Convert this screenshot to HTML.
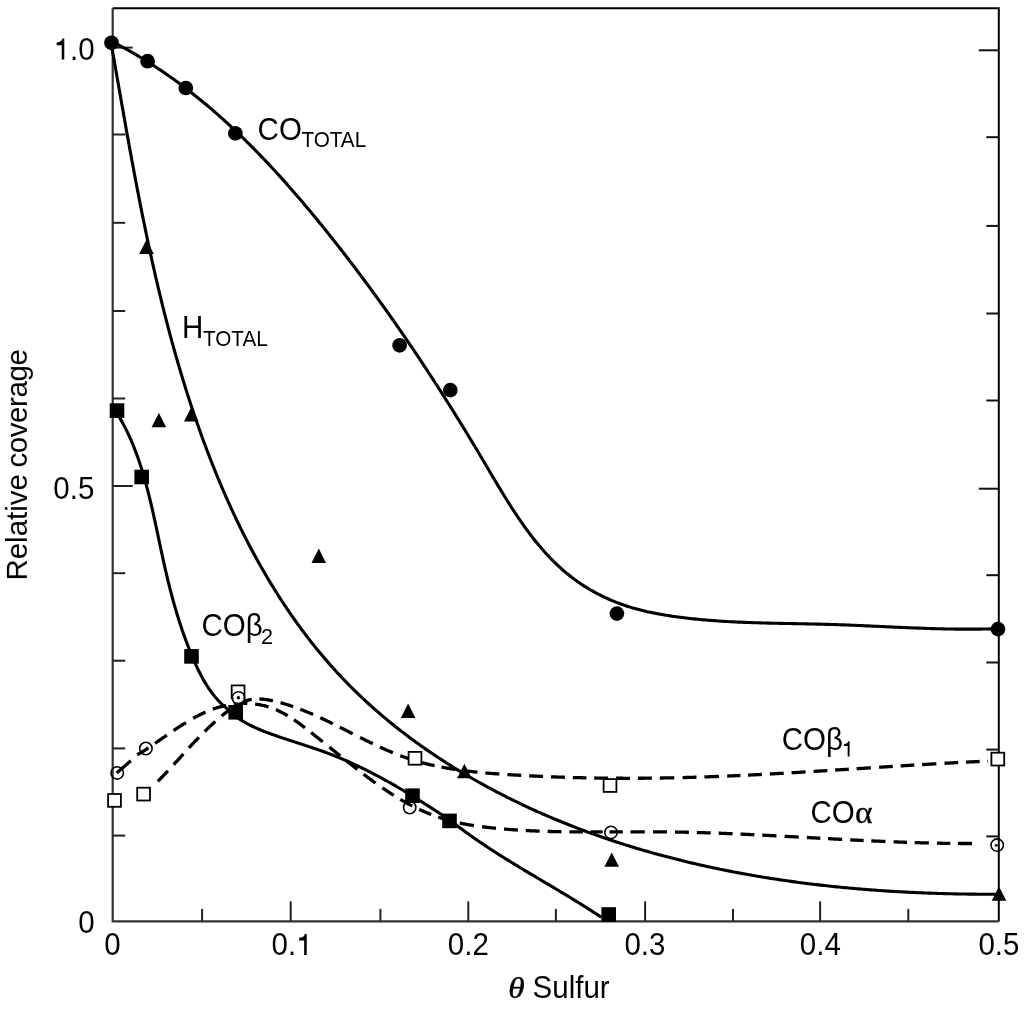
<!DOCTYPE html>
<html><head><meta charset="utf-8"><style>
html,body{margin:0;padding:0;background:#fff;}
body{width:1024px;height:1009px;overflow:hidden;position:relative;font-family:"Liberation Sans",sans-serif;}
svg{position:absolute;left:0;top:0;}
</style></head><body>
<svg width="1024" height="1009" viewBox="0 0 1024 1009">
<path d="M112.7,8.2 H998.8 V921.4" fill="none" stroke="#000" stroke-width="2.0"/>
<path d="M112.7,8.2 V921.4 H998.8" fill="none" stroke="#333" stroke-width="2.2"/>
<line x1="112.7" y1="47.6" x2="132.7" y2="47.6" stroke="#222" stroke-width="2"/>
<line x1="998.8" y1="50.3" x2="978.8" y2="50.3" stroke="#111" stroke-width="2"/>
<line x1="112.7" y1="134.5" x2="125.2" y2="134.5" stroke="#222" stroke-width="2"/>
<line x1="998.8" y1="137.2" x2="986.3" y2="137.2" stroke="#111" stroke-width="2"/>
<line x1="112.7" y1="222.8" x2="125.2" y2="222.8" stroke="#222" stroke-width="2"/>
<line x1="998.8" y1="225.9" x2="986.3" y2="225.9" stroke="#111" stroke-width="2"/>
<line x1="112.7" y1="311.0" x2="125.2" y2="311.0" stroke="#222" stroke-width="2"/>
<line x1="998.8" y1="313.5" x2="986.3" y2="313.5" stroke="#111" stroke-width="2"/>
<line x1="112.7" y1="398.5" x2="125.2" y2="398.5" stroke="#222" stroke-width="2"/>
<line x1="998.8" y1="400.5" x2="986.3" y2="400.5" stroke="#111" stroke-width="2"/>
<line x1="112.7" y1="486.0" x2="132.7" y2="486.0" stroke="#222" stroke-width="2"/>
<line x1="998.8" y1="488.7" x2="978.8" y2="488.7" stroke="#111" stroke-width="2"/>
<line x1="112.7" y1="573.2" x2="125.2" y2="573.2" stroke="#222" stroke-width="2"/>
<line x1="998.8" y1="575.2" x2="986.3" y2="575.2" stroke="#111" stroke-width="2"/>
<line x1="112.7" y1="660.7" x2="125.2" y2="660.7" stroke="#222" stroke-width="2"/>
<line x1="998.8" y1="662.5" x2="986.3" y2="662.5" stroke="#111" stroke-width="2"/>
<line x1="112.7" y1="748.4" x2="125.2" y2="748.4" stroke="#222" stroke-width="2"/>
<line x1="998.8" y1="749.6" x2="986.3" y2="749.6" stroke="#111" stroke-width="2"/>
<line x1="112.7" y1="835.6" x2="125.2" y2="835.6" stroke="#222" stroke-width="2"/>
<line x1="998.8" y1="836.4" x2="986.3" y2="836.4" stroke="#111" stroke-width="2"/>
<line x1="202.1" y1="921.4" x2="202.1" y2="908.9" stroke="#222" stroke-width="2"/>
<line x1="290.7" y1="921.4" x2="290.7" y2="901.4" stroke="#222" stroke-width="2"/>
<line x1="380.4" y1="921.4" x2="380.4" y2="908.9" stroke="#222" stroke-width="2"/>
<line x1="468.3" y1="921.4" x2="468.3" y2="901.4" stroke="#222" stroke-width="2"/>
<line x1="555.9" y1="921.4" x2="555.9" y2="908.9" stroke="#222" stroke-width="2"/>
<line x1="645.1" y1="921.4" x2="645.1" y2="901.4" stroke="#222" stroke-width="2"/>
<line x1="733.0" y1="921.4" x2="733.0" y2="908.9" stroke="#222" stroke-width="2"/>
<line x1="820.1" y1="921.4" x2="820.1" y2="901.4" stroke="#222" stroke-width="2"/>
<line x1="908.3" y1="921.4" x2="908.3" y2="908.9" stroke="#222" stroke-width="2"/>
<path d="M113.56,42.39 L115.34,43.31 L117.12,44.23 L118.89,45.17 L120.66,46.11 L122.42,47.06 L124.18,48.01 L125.93,48.98 L127.68,49.95 L129.42,50.93 L131.16,51.91 L132.89,52.91 L134.62,53.91 L136.34,54.92 L138.06,55.93 L139.77,56.96 L141.48,57.99 L143.18,59.02 L144.88,60.07 L146.58,61.12 L148.26,62.18 L149.95,63.24 L151.63,64.31 L153.30,65.39 L154.97,66.48 L156.64,67.57 L158.30,68.67 L159.96,69.78 L161.61,70.89 L163.26,72.01 L164.90,73.13 L166.54,74.27 L168.17,75.40 L169.80,76.55 L171.42,77.70 L173.05,78.86 L174.66,80.02 L176.27,81.19 L177.88,82.37 L179.48,83.55 L181.08,84.74 L182.67,85.93 L184.26,87.13 L185.85,88.34 L187.43,89.55 L189.01,90.77 L190.58,91.99 L192.15,93.22 L193.71,94.45 L195.27,95.69 L196.83,96.94 L198.38,98.19 L199.93,99.45 L201.47,100.71 L203.01,101.98 L204.54,103.25 L206.08,104.53 L207.60,105.81 L209.13,107.10 L210.65,108.39 L212.16,109.69 L213.67,111.00 L215.18,112.31 L216.68,113.62 L218.18,114.94 L219.68,116.26 L221.17,117.59 L222.66,118.93 L224.14,120.26 L225.62,121.61 L227.10,122.96 L228.57,124.31 L230.04,125.66 L231.51,127.03 L232.97,128.39 L234.43,129.76 L235.88,131.14 L237.33,132.52 L238.78,133.90 L240.22,135.29 L241.66,136.68 L243.10,138.07 L244.53,139.47 L245.96,140.88 L247.39,142.28 L248.81,143.70 L250.23,145.11 L251.65,146.53 L253.06,147.96 L254.47,149.38 L255.87,150.81 L257.28,152.25 L258.67,153.69 L260.07,155.13 L261.46,156.57 L262.85,158.02 L264.24,159.47 L265.62,160.93 L267.00,162.39 L268.37,163.85 L269.75,165.32 L271.12,166.78 L272.48,168.26 L273.85,169.73 L275.21,171.21 L276.57,172.69 L277.92,174.17 L279.27,175.66 L280.62,177.15 L281.96,178.64 L283.31,180.14 L284.65,181.64 L285.98,183.14 L287.32,184.64 L288.65,186.15 L289.97,187.66 L291.30,189.17 L292.62,190.68 L293.94,192.20 L295.26,193.71 L296.57,195.23 L297.88,196.76 L299.19,198.28 L300.49,199.81 L301.80,201.34 L303.10,202.87 L304.39,204.40 L305.69,205.94 L306.98,207.48 L308.27,209.02 L309.56,210.56 L310.84,212.10 L312.12,213.65 L313.40,215.19 L314.68,216.74 L315.95,218.29 L317.22,219.84 L318.49,221.40 L319.76,222.95 L321.02,224.51 L322.29,226.06 L323.55,227.62 L324.80,229.18 L326.06,230.74 L327.31,232.31 L328.56,233.87 L329.81,235.43 L331.05,237.00 L332.30,238.57 L333.54,240.13 L334.78,241.70 L336.02,243.27 L337.25,244.84 L338.48,246.42 L339.71,247.99 L340.94,249.56 L342.17,251.14 L343.39,252.72 L344.61,254.29 L345.83,255.87 L347.05,257.45 L348.27,259.04 L349.48,260.62 L350.69,262.20 L351.90,263.79 L353.11,265.37 L354.31,266.96 L355.51,268.55 L356.71,270.14 L357.91,271.73 L359.11,273.32 L360.31,274.91 L361.50,276.50 L362.69,278.10 L363.88,279.70 L365.06,281.29 L366.25,282.89 L367.43,284.49 L368.61,286.09 L369.79,287.69 L370.97,289.30 L372.14,290.90 L373.32,292.51 L374.49,294.12 L375.66,295.72 L376.83,297.33 L377.99,298.94 L379.16,300.56 L380.32,302.17 L381.48,303.78 L382.64,305.40 L383.79,307.01 L384.95,308.63 L386.10,310.25 L387.25,311.87 L388.40,313.49 L389.55,315.12 L390.69,316.74 L391.84,318.37 L392.98,319.99 L394.12,321.62 L395.26,323.25 L396.40,324.88 L397.53,326.51 L398.67,328.15 L399.80,329.78 L400.93,331.41 L402.06,333.05 L403.19,334.69 L404.31,336.33 L405.44,337.97 L406.56,339.61 L407.68,341.26 L408.80,342.90 L409.91,344.55 L411.03,346.19 L412.14,347.84 L413.26,349.49 L414.37,351.14 L415.48,352.79 L416.59,354.45 L417.69,356.10 L418.80,357.76 L419.90,359.42 L421.00,361.08 L422.11,362.74 L423.20,364.40 L424.30,366.06 L425.40,367.73 L426.49,369.39 L427.59,371.06 L428.68,372.73 L429.77,374.40 L430.86,376.07 L431.95,377.74 L433.03,379.42 L434.12,381.09 L435.20,382.77 L436.28,384.45 L437.36,386.13 L438.44,387.81 L439.52,389.49 L440.60,391.17 L441.68,392.86 L442.75,394.55 L443.82,396.23 L444.89,397.92 L445.97,399.61 L447.03,401.31 L448.10,403.00 L449.17,404.69 L450.24,406.39 L451.30,408.09 L452.36,409.79 L453.43,411.49 L454.49,413.19 L455.55,414.90 L456.60,416.60 L457.66,418.31 L458.72,420.02 L459.77,421.72 L460.83,423.44 L461.88,425.15 L462.93,426.86 L463.98,428.58 L465.03,430.29 L466.08,432.01 L467.13,433.73 L468.18,435.45 L469.22,437.18 L470.26,438.90 L471.31,440.63 L472.35,442.35 L473.39,444.08 L474.43,445.81 L475.47,447.54 L476.51,449.28 L477.55,451.01 L478.58,452.75 L479.62,454.49 L480.65,456.23 L481.69,457.97 L482.72,459.71 L483.75,461.45 L484.78,463.20 L485.81,464.94 L486.84,466.69 L487.87,468.44 L488.91,470.19 L489.94,471.94 L490.97,473.68 L492.00,475.43 L493.03,477.18 L494.07,478.92 L495.10,480.67 L496.14,482.41 L497.18,484.15 L498.22,485.89 L499.27,487.63 L500.31,489.37 L501.36,491.10 L502.42,492.83 L503.47,494.56 L504.53,496.28 L505.59,498.00 L506.66,499.72 L507.73,501.43 L508.80,503.14 L509.88,504.85 L510.96,506.55 L512.05,508.24 L513.15,509.93 L514.24,511.62 L515.35,513.29 L516.46,514.97 L517.57,516.63 L518.70,518.29 L519.82,519.95 L520.96,521.60 L522.10,523.23 L523.25,524.87 L524.40,526.49 L525.57,528.11 L526.74,529.72 L527.92,531.32 L529.10,532.91 L530.30,534.50 L531.50,536.07 L532.71,537.64 L533.93,539.19 L535.16,540.74 L536.40,542.27 L537.65,543.80 L538.91,545.32 L540.18,546.82 L541.46,548.32 L542.75,549.80 L544.05,551.27 L545.36,552.73 L546.68,554.18 L548.01,555.61 L549.36,557.04 L550.71,558.45 L552.08,559.85 L553.46,561.23 L554.85,562.61 L556.26,563.97 L557.67,565.31 L559.10,566.64 L560.55,567.96 L562.00,569.26 L563.47,570.55 L564.96,571.82 L566.46,573.08 L567.97,574.32 L569.50,575.55 L571.04,576.76 L572.59,577.95 L574.17,579.13 L575.75,580.29 L577.35,581.44 L578.97,582.56 L580.60,583.67 L582.25,584.77 L583.91,585.84 L585.58,586.90 L587.26,587.94 L588.96,588.97 L590.67,589.97 L592.40,590.96 L594.13,591.93 L595.88,592.89 L597.64,593.82 L599.41,594.74 L601.19,595.63 L602.98,596.51 L604.79,597.37 L606.60,598.21 L608.42,599.03 L610.25,599.84 L612.10,600.62 L613.95,601.39 L615.80,602.13 L617.67,602.86 L619.55,603.56 L621.43,604.25 L623.32,604.91 L625.22,605.56 L627.12,606.19 L629.03,606.79 L630.95,607.38 L632.87,607.95 L634.80,608.50 L636.74,609.03 L638.68,609.55 L640.63,610.05 L642.58,610.53 L644.53,611.00 L646.49,611.45 L648.45,611.89 L650.42,612.32 L652.39,612.73 L654.37,613.12 L656.34,613.51 L658.32,613.88 L660.30,614.24 L662.29,614.58 L664.27,614.92 L666.26,615.25 L668.25,615.56 L670.24,615.87 L672.23,616.17 L674.22,616.45 L676.22,616.73 L678.21,617.00 L680.20,617.27 L682.20,617.52 L684.19,617.77 L686.18,618.01 L688.18,618.25 L690.17,618.47 L692.16,618.69 L694.16,618.90 L696.15,619.11 L698.15,619.31 L700.14,619.50 L702.14,619.69 L704.14,619.86 L706.13,620.04 L708.13,620.20 L710.12,620.37 L712.12,620.52 L714.12,620.67 L716.12,620.82 L718.11,620.95 L720.11,621.09 L722.11,621.22 L724.10,621.34 L726.10,621.46 L728.10,621.57 L730.10,621.68 L732.10,621.79 L734.10,621.89 L736.09,621.99 L738.09,622.08 L740.09,622.17 L742.09,622.26 L744.09,622.34 L746.09,622.42 L748.09,622.49 L750.09,622.56 L752.09,622.63 L754.09,622.70 L756.09,622.76 L758.09,622.82 L760.09,622.88 L762.09,622.94 L764.09,622.99 L766.09,623.04 L768.09,623.09 L770.09,623.14 L772.09,623.19 L774.09,623.23 L776.09,623.28 L778.09,623.32 L780.09,623.36 L782.09,623.40 L784.09,623.44 L786.09,623.48 L788.09,623.52 L790.09,623.56 L792.09,623.59 L794.09,623.63 L796.09,623.67 L798.09,623.71 L800.09,623.75 L802.09,623.78 L804.09,623.82 L806.08,623.86 L808.08,623.90 L810.08,623.95 L812.08,623.99 L814.08,624.03 L816.08,624.08 L818.08,624.12 L820.08,624.17 L822.08,624.22 L824.08,624.27 L826.08,624.33 L828.08,624.38 L830.07,624.44 L832.07,624.50 L834.07,624.57 L836.07,624.63 L838.07,624.70 L840.06,624.77 L842.06,624.84 L844.06,624.92 L846.06,624.99 L848.06,625.07 L850.05,625.15 L852.05,625.23 L854.05,625.31 L856.04,625.40 L858.04,625.48 L860.04,625.57 L862.04,625.65 L864.03,625.74 L866.03,625.83 L868.03,625.92 L870.02,626.01 L872.02,626.10 L874.02,626.19 L876.01,626.28 L878.01,626.37 L880.01,626.46 L882.00,626.55 L884.00,626.65 L886.00,626.74 L888.00,626.83 L889.99,626.92 L891.99,627.01 L893.99,627.10 L895.98,627.19 L897.98,627.28 L899.98,627.36 L901.98,627.45 L903.97,627.54 L905.97,627.62 L907.97,627.70 L909.97,627.79 L911.96,627.87 L913.96,627.95 L915.96,628.02 L917.96,628.10 L919.95,628.17 L921.95,628.25 L923.95,628.32 L925.95,628.39 L927.95,628.45 L929.95,628.52 L931.95,628.58 L933.95,628.64 L935.94,628.69 L937.94,628.75 L939.94,628.80 L941.94,628.85 L943.94,628.89 L945.94,628.93 L947.94,628.97 L949.94,629.01 L951.95,629.04 L953.95,629.07 L955.95,629.10 L957.95,629.12 L959.95,629.14 L961.95,629.15 L963.95,629.16 L965.96,629.17 L967.96,629.17 L969.96,629.17 L971.97,629.16 L973.97,629.15 L975.97,629.14 L977.98,629.12 L979.98,629.10 L981.99,629.07 L983.99,629.03 L986.00,628.99 L988.00,628.95 L990.01,628.90 L992.01,628.85 L994.02,628.79 L996.03,628.72 L998.03,628.65" fill="none" stroke="#000" stroke-width="3.1" stroke-linejoin="round"/>
<path d="M111.57,45.58 L111.91,47.53 L112.26,49.49 L112.60,51.45 L112.94,53.41 L113.29,55.37 L113.63,57.33 L113.97,59.29 L114.31,61.25 L114.66,63.21 L115.00,65.17 L115.34,67.13 L115.68,69.09 L116.03,71.05 L116.37,73.02 L116.71,74.98 L117.05,76.94 L117.40,78.90 L117.74,80.86 L118.08,82.83 L118.42,84.79 L118.77,86.75 L119.11,88.72 L119.45,90.68 L119.80,92.64 L120.14,94.61 L120.48,96.57 L120.83,98.53 L121.17,100.50 L121.52,102.46 L121.86,104.43 L122.21,106.39 L122.55,108.36 L122.90,110.32 L123.25,112.29 L123.59,114.25 L123.94,116.22 L124.29,118.18 L124.64,120.15 L124.99,122.11 L125.34,124.08 L125.69,126.04 L126.04,128.01 L126.39,129.97 L126.74,131.94 L127.09,133.91 L127.44,135.87 L127.80,137.84 L128.15,139.80 L128.51,141.77 L128.86,143.73 L129.22,145.70 L129.57,147.67 L129.93,149.63 L130.29,151.60 L130.65,153.56 L131.01,155.53 L131.37,157.49 L131.73,159.46 L132.09,161.43 L132.46,163.39 L132.82,165.36 L133.19,167.32 L133.55,169.29 L133.92,171.25 L134.29,173.22 L134.66,175.18 L135.03,177.15 L135.40,179.11 L135.77,181.08 L136.15,183.04 L136.52,185.00 L136.90,186.97 L137.27,188.93 L137.65,190.90 L138.03,192.86 L138.41,194.82 L138.79,196.79 L139.18,198.75 L139.56,200.71 L139.95,202.68 L140.33,204.64 L140.72,206.60 L141.11,208.56 L141.50,210.52 L141.90,212.49 L142.29,214.45 L142.68,216.41 L143.08,218.37 L143.48,220.33 L143.88,222.29 L144.28,224.25 L144.68,226.21 L145.09,228.17 L145.49,230.13 L145.90,232.09 L146.31,234.05 L146.72,236.00 L147.13,237.96 L147.54,239.92 L147.96,241.88 L148.38,243.83 L148.79,245.79 L149.21,247.75 L149.64,249.70 L150.06,251.66 L150.49,253.62 L150.91,255.57 L151.34,257.52 L151.77,259.48 L152.21,261.43 L152.64,263.39 L153.08,265.34 L153.52,267.29 L153.96,269.24 L154.40,271.20 L154.85,273.15 L155.29,275.10 L155.74,277.05 L156.19,279.00 L156.65,280.95 L157.10,282.90 L157.56,284.84 L158.02,286.79 L158.48,288.74 L158.94,290.69 L159.41,292.63 L159.88,294.58 L160.35,296.53 L160.82,298.47 L161.29,300.41 L161.77,302.36 L162.25,304.30 L162.73,306.25 L163.21,308.19 L163.70,310.13 L164.19,312.07 L164.68,314.01 L165.17,315.95 L165.67,317.89 L166.17,319.83 L166.67,321.77 L167.17,323.71 L167.68,325.64 L168.18,327.58 L168.70,329.51 L169.21,331.45 L169.72,333.38 L170.24,335.32 L170.76,337.25 L171.29,339.18 L171.81,341.12 L172.34,343.05 L172.88,344.98 L173.41,346.91 L173.95,348.84 L174.49,350.77 L175.03,352.69 L175.58,354.62 L176.12,356.55 L176.68,358.47 L177.23,360.40 L177.79,362.32 L178.35,364.25 L178.91,366.17 L179.48,368.09 L180.04,370.01 L180.62,371.93 L181.19,373.85 L181.77,375.77 L182.35,377.69 L182.93,379.61 L183.52,381.52 L184.11,383.44 L184.70,385.35 L185.30,387.27 L185.90,389.18 L186.50,391.09 L187.11,393.00 L187.72,394.92 L188.33,396.83 L188.94,398.73 L189.56,400.64 L190.18,402.55 L190.81,404.46 L191.44,406.36 L192.07,408.27 L192.70,410.17 L193.34,412.07 L193.98,413.97 L194.63,415.88 L195.28,417.78 L195.93,419.67 L196.59,421.57 L197.25,423.47 L197.91,425.37 L198.58,427.26 L199.25,429.16 L199.92,431.05 L200.60,432.94 L201.28,434.83 L201.96,436.72 L202.65,438.61 L203.34,440.50 L204.04,442.39 L204.74,444.27 L205.44,446.16 L206.15,448.04 L206.86,449.93 L207.57,451.81 L208.29,453.69 L209.01,455.57 L209.74,457.45 L210.47,459.32 L211.20,461.20 L211.94,463.07 L212.68,464.95 L213.42,466.82 L214.17,468.69 L214.92,470.56 L215.68,472.42 L216.44,474.29 L217.21,476.15 L217.97,478.01 L218.75,479.87 L219.52,481.73 L220.31,483.59 L221.09,485.44 L221.88,487.30 L222.67,489.15 L223.47,491.00 L224.27,492.85 L225.08,494.69 L225.89,496.54 L226.70,498.38 L227.52,500.22 L228.34,502.06 L229.17,503.89 L230.00,505.73 L230.84,507.56 L231.68,509.39 L232.52,511.22 L233.37,513.04 L234.22,514.86 L235.08,516.68 L235.94,518.50 L236.80,520.32 L237.67,522.13 L238.55,523.94 L239.43,525.75 L240.31,527.56 L241.20,529.36 L242.09,531.16 L242.99,532.96 L243.89,534.75 L244.80,536.55 L245.71,538.34 L246.62,540.13 L247.54,541.91 L248.47,543.69 L249.40,545.47 L250.33,547.25 L251.27,549.02 L252.21,550.79 L253.16,552.56 L254.11,554.33 L255.07,556.09 L256.03,557.85 L257.00,559.60 L257.97,561.35 L258.95,563.10 L259.93,564.85 L260.91,566.59 L261.91,568.33 L262.90,570.07 L263.90,571.80 L264.91,573.53 L265.92,575.26 L266.93,576.98 L267.95,578.70 L268.98,580.42 L270.01,582.13 L271.05,583.84 L272.09,585.55 L273.13,587.25 L274.18,588.95 L275.24,590.64 L276.30,592.33 L277.36,594.02 L278.44,595.71 L279.51,597.39 L280.59,599.06 L281.68,600.74 L282.77,602.40 L283.87,604.07 L284.97,605.73 L286.08,607.39 L287.19,609.04 L288.31,610.69 L289.43,612.33 L290.56,613.97 L291.69,615.61 L292.83,617.24 L293.98,618.87 L295.13,620.49 L296.28,622.11 L297.44,623.73 L298.61,625.34 L299.78,626.95 L300.96,628.55 L302.14,630.15 L303.33,631.74 L304.52,633.33 L305.72,634.91 L306.93,636.49 L308.14,638.07 L309.35,639.64 L310.57,641.20 L311.80,642.77 L313.03,644.32 L314.27,645.87 L315.51,647.42 L316.76,648.96 L318.02,650.50 L319.28,652.03 L320.55,653.56 L321.82,655.09 L323.10,656.60 L324.38,658.12 L325.67,659.62 L326.97,661.13 L328.27,662.62 L329.58,664.12 L330.89,665.60 L332.21,667.09 L333.53,668.56 L334.86,670.04 L336.20,671.50 L337.54,672.96 L338.89,674.42 L340.25,675.87 L341.61,677.31 L342.97,678.75 L344.35,680.19 L345.73,681.62 L347.11,683.04 L348.50,684.46 L349.90,685.87 L351.30,687.28 L352.71,688.68 L354.12,690.07 L355.54,691.46 L356.97,692.85 L358.40,694.23 L359.84,695.60 L361.28,696.97 L362.73,698.33 L364.18,699.69 L365.64,701.04 L367.11,702.39 L368.58,703.73 L370.05,705.07 L371.53,706.40 L373.02,707.73 L374.51,709.05 L376.01,710.36 L377.51,711.67 L379.02,712.97 L380.53,714.27 L382.05,715.56 L383.57,716.85 L385.10,718.13 L386.63,719.41 L388.17,720.68 L389.71,721.95 L391.26,723.21 L392.81,724.46 L394.37,725.71 L395.93,726.96 L397.49,728.20 L399.06,729.43 L400.64,730.66 L402.22,731.89 L403.81,733.10 L405.40,734.32 L406.99,735.52 L408.59,736.73 L410.19,737.92 L411.80,739.11 L413.41,740.30 L415.03,741.48 L416.65,742.66 L418.27,743.83 L419.90,744.99 L421.53,746.15 L423.17,747.31 L424.81,748.46 L426.46,749.60 L428.11,750.74 L429.76,751.88 L431.42,753.00 L433.08,754.13 L434.74,755.25 L436.41,756.36 L438.09,757.47 L439.76,758.57 L441.44,759.67 L443.13,760.76 L444.81,761.84 L446.51,762.93 L448.20,764.00 L449.90,765.07 L451.60,766.14 L453.31,767.20 L455.02,768.26 L456.73,769.31 L458.44,770.35 L460.16,771.39 L461.89,772.43 L463.61,773.46 L465.34,774.48 L467.07,775.50 L468.81,776.51 L470.55,777.52 L472.29,778.53 L474.03,779.53 L475.78,780.52 L477.53,781.51 L479.28,782.49 L481.04,783.47 L482.80,784.44 L484.56,785.41 L486.33,786.38 L488.09,787.33 L489.86,788.29 L491.64,789.23 L493.41,790.18 L495.19,791.12 L496.97,792.05 L498.76,792.98 L500.54,793.90 L502.33,794.82 L504.12,795.73 L505.91,796.64 L507.71,797.54 L509.51,798.43 L511.31,799.33 L513.11,800.21 L514.91,801.10 L516.72,801.97 L518.53,802.85 L520.34,803.71 L522.15,804.57 L523.97,805.43 L525.79,806.28 L527.61,807.13 L529.43,807.97 L531.25,808.81 L533.07,809.64 L534.90,810.47 L536.73,811.29 L538.56,812.11 L540.40,812.92 L542.23,813.73 L544.07,814.53 L545.91,815.33 L547.75,816.12 L549.59,816.91 L551.43,817.70 L553.28,818.47 L555.13,819.25 L556.98,820.02 L558.83,820.78 L560.68,821.54 L562.54,822.30 L564.40,823.05 L566.26,823.79 L568.12,824.53 L569.98,825.27 L571.84,826.00 L573.71,826.73 L575.58,827.45 L577.45,828.17 L579.32,828.88 L581.19,829.59 L583.07,830.29 L584.94,830.99 L586.82,831.68 L588.70,832.37 L590.58,833.06 L592.47,833.74 L594.35,834.41 L596.24,835.08 L598.12,835.75 L600.01,836.41 L601.91,837.07 L603.80,837.72 L605.69,838.37 L607.59,839.02 L609.48,839.66 L611.38,840.29 L613.28,840.92 L615.18,841.55 L617.09,842.17 L618.99,842.79 L620.90,843.41 L622.81,844.01 L624.71,844.62 L626.62,845.22 L628.54,845.82 L630.45,846.41 L632.36,846.99 L634.28,847.58 L636.20,848.16 L638.12,848.73 L640.03,849.30 L641.96,849.87 L643.88,850.43 L645.80,850.99 L647.73,851.54 L649.65,852.09 L651.58,852.63 L653.51,853.18 L655.44,853.71 L657.37,854.24 L659.30,854.77 L661.24,855.30 L663.17,855.82 L665.11,856.33 L667.05,856.85 L668.98,857.35 L670.92,857.86 L672.86,858.36 L674.81,858.85 L676.75,859.34 L678.69,859.83 L680.64,860.32 L682.58,860.79 L684.53,861.27 L686.48,861.74 L688.43,862.21 L690.38,862.67 L692.33,863.13 L694.28,863.59 L696.24,864.04 L698.19,864.49 L700.15,864.93 L702.10,865.37 L704.06,865.81 L706.02,866.24 L707.98,866.67 L709.94,867.09 L711.90,867.52 L713.86,867.93 L715.82,868.35 L717.79,868.76 L719.75,869.16 L721.72,869.56 L723.68,869.96 L725.65,870.36 L727.62,870.75 L729.59,871.13 L731.55,871.52 L733.52,871.90 L735.50,872.27 L737.47,872.64 L739.44,873.01 L741.41,873.38 L743.39,873.74 L745.36,874.10 L747.34,874.45 L749.31,874.80 L751.29,875.15 L753.27,875.49 L755.24,875.83 L757.22,876.17 L759.20,876.50 L761.18,876.83 L763.16,877.16 L765.14,877.48 L767.12,877.80 L769.10,878.11 L771.09,878.42 L773.07,878.73 L775.05,879.04 L777.04,879.34 L779.02,879.64 L781.01,879.93 L782.99,880.22 L784.98,880.51 L786.97,880.79 L788.95,881.07 L790.94,881.35 L792.93,881.63 L794.92,881.90 L796.90,882.17 L798.89,882.43 L800.88,882.69 L802.87,882.95 L804.86,883.20 L806.85,883.45 L808.84,883.70 L810.83,883.95 L812.83,884.19 L814.82,884.43 L816.81,884.66 L818.80,884.89 L820.79,885.12 L822.79,885.35 L824.78,885.57 L826.77,885.79 L828.77,886.01 L830.76,886.22 L832.75,886.43 L834.75,886.64 L836.74,886.84 L838.74,887.04 L840.73,887.24 L842.72,887.43 L844.72,887.63 L846.71,887.81 L848.71,888.00 L850.70,888.18 L852.70,888.36 L854.69,888.54 L856.69,888.71 L858.68,888.88 L860.68,889.05 L862.67,889.22 L864.67,889.38 L866.66,889.54 L868.66,889.69 L870.65,889.85 L872.65,890.00 L874.64,890.15 L876.64,890.29 L878.63,890.43 L880.63,890.57 L882.62,890.71 L884.62,890.84 L886.61,890.97 L888.61,891.10 L890.60,891.23 L892.59,891.35 L894.59,891.47 L896.58,891.58 L898.58,891.70 L900.57,891.81 L902.56,891.92 L904.55,892.03 L906.55,892.13 L908.54,892.23 L910.53,892.33 L912.52,892.42 L914.51,892.52 L916.50,892.61 L918.50,892.70 L920.49,892.78 L922.48,892.86 L924.47,892.94 L926.45,893.02 L928.44,893.10 L930.43,893.17 L932.42,893.24 L934.41,893.31 L936.40,893.37 L938.38,893.43 L940.37,893.49 L942.36,893.55 L944.34,893.61 L946.33,893.66 L948.31,893.71 L950.29,893.76 L952.28,893.80 L954.26,893.85 L956.24,893.89 L958.23,893.93 L960.21,893.96 L962.19,894.00 L964.17,894.03 L966.15,894.06 L968.13,894.08 L970.11,894.11 L972.08,894.13 L974.06,894.15 L976.04,894.17 L978.01,894.18 L979.99,894.20 L981.96,894.21 L983.94,894.22 L985.91,894.23 L987.88,894.23 L989.85,894.23 L991.82,894.23 L993.79,894.23 L995.76,894.23 L997.73,894.22" fill="none" stroke="#000" stroke-width="3.1" stroke-linejoin="round"/>
<path d="M115.73,411.46 L116.81,413.12 L117.86,414.80 L118.90,416.49 L119.92,418.19 L120.92,419.90 L121.90,421.62 L122.86,423.36 L123.80,425.11 L124.72,426.86 L125.63,428.63 L126.52,430.40 L127.39,432.19 L128.25,433.99 L129.09,435.79 L129.91,437.60 L130.72,439.42 L131.51,441.25 L132.29,443.09 L133.05,444.93 L133.80,446.79 L134.53,448.65 L135.25,450.51 L135.96,452.38 L136.65,454.26 L137.33,456.14 L138.00,458.03 L138.66,459.93 L139.30,461.83 L139.94,463.73 L140.56,465.64 L141.17,467.55 L141.77,469.47 L142.36,471.39 L142.94,473.31 L143.51,475.24 L144.08,477.16 L144.63,479.09 L145.18,481.03 L145.71,482.96 L146.24,484.90 L146.76,486.84 L147.28,488.78 L147.78,490.73 L148.28,492.67 L148.77,494.62 L149.26,496.57 L149.74,498.53 L150.21,500.48 L150.68,502.44 L151.15,504.39 L151.61,506.35 L152.06,508.31 L152.51,510.27 L152.95,512.23 L153.40,514.20 L153.83,516.16 L154.27,518.13 L154.70,520.09 L155.13,522.06 L155.55,524.03 L155.98,526.00 L156.40,527.96 L156.82,529.93 L157.24,531.90 L157.66,533.87 L158.08,535.84 L158.49,537.81 L158.91,539.78 L159.32,541.75 L159.74,543.72 L160.16,545.69 L160.58,547.66 L160.99,549.63 L161.42,551.60 L161.84,553.57 L162.26,555.54 L162.69,557.50 L163.12,559.47 L163.55,561.43 L163.98,563.40 L164.42,565.36 L164.86,567.32 L165.31,569.28 L165.76,571.24 L166.21,573.20 L166.67,575.16 L167.13,577.11 L167.60,579.06 L168.07,581.02 L168.55,582.97 L169.03,584.92 L169.52,586.86 L170.02,588.81 L170.51,590.75 L171.02,592.70 L171.53,594.64 L172.05,596.58 L172.57,598.51 L173.10,600.45 L173.64,602.38 L174.18,604.32 L174.73,606.25 L175.29,608.17 L175.85,610.10 L176.42,612.03 L177.00,613.95 L177.58,615.87 L178.18,617.79 L178.78,619.70 L179.39,621.62 L180.00,623.53 L180.63,625.44 L181.26,627.35 L181.91,629.25 L182.56,631.15 L183.22,633.06 L183.88,634.95 L184.56,636.85 L185.25,638.74 L185.94,640.64 L186.65,642.52 L187.37,644.41 L188.09,646.29 L188.83,648.18 L189.57,650.05 L190.33,651.93 L191.09,653.80 L191.87,655.67 L192.66,657.54 L193.45,659.41 L194.26,661.27 L195.09,663.12 L195.92,664.97 L196.78,666.81 L197.64,668.64 L198.53,670.46 L199.43,672.27 L200.34,674.07 L201.28,675.85 L202.24,677.63 L203.21,679.38 L204.21,681.12 L205.23,682.84 L206.27,684.54 L207.34,686.23 L208.43,687.89 L209.54,689.53 L210.68,691.15 L211.85,692.74 L213.04,694.31 L214.27,695.85 L215.52,697.37 L216.80,698.86 L218.11,700.31 L219.46,701.74 L220.84,703.14 L222.25,704.50 L223.69,705.83 L225.17,707.12 L226.69,708.38 L228.24,709.61 L229.83,710.79 L231.46,711.94 L233.12,713.04 L234.83,714.10" fill="none" stroke="#000" stroke-width="3.1" stroke-linejoin="round"/>
<path d="M233.74,714.98 L235.27,716.14 L236.83,717.26 L238.41,718.35 L240.01,719.41 L241.63,720.43 L243.27,721.43 L244.94,722.39 L246.62,723.33 L248.31,724.24 L250.03,725.13 L251.76,725.99 L253.51,726.83 L255.27,727.65 L257.05,728.45 L258.84,729.23 L260.64,729.99 L262.45,730.73 L264.28,731.46 L266.11,732.18 L267.96,732.88 L269.81,733.56 L271.68,734.24 L273.55,734.91 L275.42,735.56 L277.31,736.22 L279.19,736.86 L281.09,737.50 L282.98,738.13 L284.88,738.76 L286.79,739.39 L288.70,740.02 L290.60,740.64 L292.52,741.26 L294.43,741.88 L296.35,742.50 L298.26,743.12 L300.18,743.74 L302.10,744.36 L304.02,744.99 L305.93,745.61 L307.85,746.25 L309.77,746.88 L311.68,747.52 L313.59,748.16 L315.51,748.81 L317.41,749.47 L319.32,750.14 L321.22,750.81 L323.12,751.49 L325.02,752.18 L326.91,752.88 L328.79,753.59 L330.67,754.30 L332.55,755.03 L334.42,755.77 L336.29,756.52 L338.15,757.28 L340.01,758.05 L341.86,758.83 L343.71,759.62 L345.55,760.42 L347.39,761.22 L349.23,762.04 L351.06,762.86 L352.88,763.70 L354.71,764.54 L356.53,765.39 L358.34,766.25 L360.15,767.11 L361.96,767.99 L363.76,768.87 L365.56,769.76 L367.35,770.66 L369.14,771.57 L370.93,772.48 L372.71,773.40 L374.49,774.33 L376.27,775.26 L378.04,776.20 L379.81,777.15 L381.57,778.11 L383.33,779.07 L385.09,780.03 L386.85,781.01 L388.60,781.99 L390.35,782.97 L392.09,783.96 L393.83,784.96 L395.57,785.96 L397.31,786.97 L399.04,787.98 L400.77,789.00 L402.50,790.02 L404.22,791.05 L405.94,792.08 L407.66,793.12 L409.37,794.16 L411.09,795.20 L412.80,796.25 L414.51,797.30 L416.21,798.36 L417.91,799.42 L419.61,800.49 L421.31,801.55 L423.01,802.62 L424.70,803.70 L426.39,804.78 L428.08,805.86 L429.76,806.94 L431.45,808.02 L433.13,809.11 L434.81,810.20 L436.49,811.29 L438.16,812.39 L439.84,813.48 L441.51,814.58 L443.18,815.68 L444.85,816.78 L446.51,817.89 L448.18,818.99 L449.84,820.10" fill="none" stroke="#000" stroke-width="3.1" stroke-linejoin="round"/>
<path d="M449.88,820.02 L451.45,821.27 L453.03,822.52 L454.61,823.75 L456.20,824.98 L457.79,826.20 L459.39,827.41 L460.99,828.61 L462.60,829.81 L464.21,831.00 L465.83,832.18 L467.45,833.36 L469.07,834.53 L470.70,835.69 L472.34,836.85 L473.98,838.00 L475.62,839.14 L477.27,840.28 L478.92,841.41 L480.57,842.53 L482.23,843.65 L483.89,844.77 L485.55,845.88 L487.22,846.98 L488.89,848.08 L490.57,849.18 L492.25,850.27 L493.93,851.35 L495.61,852.43 L497.30,853.51 L498.98,854.58 L500.68,855.65 L502.37,856.72 L504.07,857.78 L505.76,858.84 L507.46,859.89 L509.17,860.94 L510.87,861.99 L512.58,863.04 L514.29,864.08 L516.00,865.12 L517.71,866.16 L519.42,867.20 L521.13,868.23 L522.85,869.27 L524.57,870.30 L526.28,871.33 L528.00,872.35 L529.72,873.38 L531.44,874.41 L533.16,875.43 L534.88,876.45 L536.61,877.48 L538.33,878.50 L540.05,879.52 L541.78,880.54 L543.50,881.56 L545.22,882.59 L546.94,883.61 L548.67,884.63 L550.39,885.65 L552.11,886.68 L553.83,887.70 L555.55,888.73 L557.27,889.75 L558.99,890.78 L560.71,891.81 L562.43,892.84 L564.15,893.87 L565.86,894.91 L567.58,895.94 L569.29,896.98 L571.00,898.02 L572.71,899.07 L574.42,900.11 L576.12,901.16 L577.83,902.21 L579.53,903.27 L581.23,904.33 L582.93,905.39 L584.63,906.45 L586.32,907.52 L588.01,908.59 L589.70,909.67 L591.38,910.75 L593.07,911.84 L594.75,912.93 L596.43,914.02 L598.10,915.12 L599.77,916.23 L601.44,917.33" fill="none" stroke="#000" stroke-width="3.1" stroke-linejoin="round"/>
<path d="M157.80,781.34 L158.21,780.93 L158.89,780.25 L159.56,779.57 L160.24,778.88 L160.91,778.19 L161.58,777.50 L162.25,776.81 L162.92,776.11 L163.59,775.41 L164.26,774.71 L164.93,774.01 L165.60,773.30 L166.27,772.59 L166.94,771.88 L167.60,771.17 L167.93,770.82 M173.60,764.69 L173.62,764.67 L174.29,763.94 L174.96,763.21 L175.62,762.47 L176.29,761.74 L176.97,761.01 L177.64,760.27 L178.31,759.53 L178.98,758.79 L179.65,758.06 L180.33,757.32 L181.00,756.58 L181.67,755.83 L182.35,755.09 L183.03,754.35 L183.32,754.02 M188.90,747.95 L189.16,747.67 L189.85,746.92 L190.54,746.18 L191.23,745.44 L191.92,744.70 L192.61,743.96 L193.31,743.22 L194.01,742.48 L194.70,741.74 L195.40,741.00 L196.11,740.26 L196.81,739.53 L197.51,738.79 L198.22,738.06 L198.87,737.39 M204.70,731.49 L205.41,730.79 L206.14,730.08 L206.87,729.36 L207.61,728.65 L208.35,727.94 L209.09,727.23 L209.83,726.52 L210.58,725.82 L211.33,725.12 L212.08,724.42 L212.83,723.72 L213.59,723.03 L214.35,722.34 L215.12,721.65 L215.30,721.48 M221.60,716.03 L222.13,715.59 L222.92,714.93 L223.72,714.28 L224.53,713.63 L225.33,712.99 L226.14,712.36 L226.95,711.73 L227.77,711.11 L228.59,710.50 L229.41,709.90 L230.24,709.31 L231.07,708.73 L231.90,708.16 L232.36,707.85 M238.99,703.89 L239.55,703.60 L240.42,703.17 L241.29,702.76 L242.17,702.36 L243.05,701.98 L243.93,701.63 L244.81,701.29 L245.70,700.97 L246.60,700.67 L247.49,700.40 L248.39,700.15 L249.30,699.92 L250.20,699.71 L251.11,699.53 L251.70,699.43 M259.40,698.96 L259.46,698.96 L260.40,699.00 L261.34,699.06 L262.28,699.14 L263.23,699.23 L264.17,699.34 L265.12,699.46 L266.06,699.59 L267.01,699.74 L267.96,699.90 L268.91,700.06 L269.85,700.24 L270.80,700.43 L271.75,700.62 L272.69,700.82 L272.91,700.87 M280.50,702.72 L281.15,702.90 L282.09,703.15 L283.02,703.42 L283.96,703.69 L284.89,703.96 L285.82,704.24 L286.75,704.52 L287.68,704.81 L288.61,705.11 L289.54,705.41 L290.47,705.71 L291.40,706.02 L292.32,706.33 L293.18,706.63 M300.30,709.22 L300.62,709.35 L301.54,709.70 L302.46,710.06 L303.38,710.42 L304.30,710.79 L305.21,711.16 L306.13,711.53 L307.04,711.91 L307.96,712.29 L308.87,712.67 L309.79,713.06 L310.70,713.45 L311.61,713.85 L312.53,714.24 L313.09,714.49 M320.30,717.74 L320.72,717.94 L321.63,718.36 L322.54,718.78 L323.45,719.21 L324.35,719.64 L325.26,720.07 L326.17,720.51 L327.08,720.94 L327.98,721.38 L328.89,721.82 L329.80,722.26 L330.70,722.70 L331.61,723.14 L332.51,723.59 L332.74,723.70 M339.80,727.22 L340.66,727.65 L341.57,728.11 L342.47,728.57 L343.38,729.02 L344.29,729.48 L345.19,729.94 L346.10,730.40 L347.00,730.86 L347.91,731.32 L348.81,731.78 L349.72,732.24 L350.63,732.70 L351.53,733.15 L352.44,733.61 L352.72,733.75 M360.10,737.48 L360.61,737.73 L361.51,738.19 L362.42,738.64 L363.33,739.09 L364.24,739.55 L365.15,740.00 L366.06,740.45 L366.97,740.89 L367.89,741.34 L368.80,741.79 L369.71,742.23 L370.62,742.67 L371.54,743.11 L372.45,743.55 L372.72,743.68 M380.00,747.10 L380.70,747.42 L381.62,747.83 L382.54,748.25 L383.46,748.66 L384.38,749.07 L385.30,749.48 L386.22,749.89 L387.15,750.29 L388.07,750.69 L388.99,751.09 L389.92,751.48 L390.85,751.87 L391.77,752.26 L392.70,752.64 L392.85,752.70 M400.30,755.64 L401.09,755.94 L402.03,756.28 L402.96,756.63 L403.90,756.97 L404.84,757.30 L405.78,757.63 L406.72,757.96 L407.67,758.28 L408.61,758.60 L409.55,758.91 L410.50,759.22 L411.45,759.53 L412.39,759.83 L413.34,760.12 L414.16,760.37 M422.20,762.68 L422.88,762.86 L423.84,763.11 L424.80,763.36 L425.76,763.61 L426.72,763.85 L427.68,764.08 L428.64,764.32 L429.61,764.55 L430.57,764.78 L431.54,765.00 L432.50,765.22 L433.47,765.44 L434.44,765.65 L434.45,765.65 M441.50,767.10 L442.20,767.23 L443.18,767.42 L444.15,767.60 L445.13,767.78 L446.10,767.95 L447.08,768.12 L448.06,768.29 L449.04,768.46 L450.01,768.62 L450.99,768.78 L451.97,768.94 L452.95,769.10 L453.93,769.25 L454.91,769.40 L455.48,769.48 M463.50,770.60 L463.77,770.64 L464.76,770.76 L465.75,770.89 L466.73,771.01 L467.72,771.13 L468.71,771.25 L469.70,771.36 L470.69,771.47 L471.68,771.58 L472.67,771.69 L473.66,771.80 L474.65,771.91 L475.64,772.01 L476.63,772.11 L477.43,772.19 M485.40,772.93 L485.57,772.95 L486.56,773.03 L487.56,773.12 L488.55,773.20 L489.55,773.28 L490.55,773.36 L491.54,773.44 L492.54,773.52 L493.53,773.59 L494.53,773.67 L495.53,773.74 L496.52,773.82 L497.52,773.89 L498.52,773.96 L499.40,774.02 M507.40,774.55 L507.50,774.56 L508.50,774.62 L509.49,774.68 L510.49,774.74 L511.49,774.81 L512.49,774.87 L513.49,774.93 L514.48,774.99 L515.48,775.04 L516.48,775.10 L517.48,775.16 L518.48,775.22 L519.48,775.27 L520.48,775.33 L521.27,775.38 M529.20,775.80 L529.46,775.81 L530.46,775.86 L531.46,775.91 L532.46,775.96 L533.46,776.01 L534.46,776.06 L535.46,776.11 L536.46,776.15 L537.46,776.20 L538.46,776.25 L539.46,776.29 L540.45,776.34 L541.45,776.38 L542.45,776.43 L543.07,776.46 M551.00,776.78 L551.45,776.80 L552.45,776.84 L553.45,776.88 L554.45,776.92 L555.45,776.95 L556.45,776.99 L557.44,777.03 L558.44,777.06 L559.44,777.10 L560.44,777.13 L561.44,777.17 L562.44,777.20 L563.44,777.23 L564.44,777.27 L564.87,777.28 M572.80,777.52 L573.44,777.54 L574.44,777.56 L575.44,777.59 L576.44,777.62 L577.44,777.64 L578.44,777.67 L579.44,777.69 L580.44,777.72 L581.44,777.74 L582.44,777.76 L583.44,777.79 L584.44,777.81 L585.44,777.83 L586.42,777.85 M594.20,778.00 L594.44,778.00 L595.44,778.02 L596.44,778.03 L597.44,778.05 L598.44,778.06 L599.44,778.08 L600.44,778.09 L601.44,778.11 L602.44,778.12 L603.44,778.13 L604.44,778.14 L605.44,778.15 L606.44,778.17 L607.45,778.18 L608.11,778.18 M616.07,778.25 L616.45,778.25 L617.45,778.25 L618.45,778.26 L619.45,778.26 L620.45,778.27 L621.45,778.27 L622.45,778.27 L623.45,778.28 L624.45,778.28 L625.45,778.28 L626.45,778.28 L627.45,778.28 L628.45,778.28 L629.45,778.28 L629.98,778.28 M637.93,778.26 L638.45,778.26 L639.45,778.25 L640.45,778.25 L641.45,778.24 L642.45,778.23 L643.45,778.23 L644.45,778.22 L645.45,778.21 L646.45,778.20 L647.45,778.19 L648.45,778.18 L649.45,778.17 L650.45,778.16 L651.45,778.15 L651.85,778.15 M659.80,778.04 L660.45,778.03 L661.45,778.02 L662.45,778.00 L663.45,777.98 L664.45,777.97 L665.45,777.95 L666.45,777.93 L667.45,777.91 L668.45,777.89 L669.45,777.87 L670.45,777.85 L671.45,777.83 L672.45,777.81 L673.45,777.79 L674.31,777.77 M682.60,777.58 L683.45,777.56 L684.45,777.53 L685.45,777.50 L686.45,777.48 L687.45,777.45 L688.45,777.42 L689.45,777.39 L690.44,777.36 L691.44,777.33 L692.44,777.31 L693.44,777.28 L694.44,777.25 L695.44,777.21 L696.44,777.18 L696.47,777.18 M704.40,776.92 L704.44,776.92 L705.43,776.89 L706.43,776.85 L707.43,776.82 L708.43,776.78 L709.43,776.75 L710.43,776.71 L711.43,776.67 L712.43,776.64 L713.43,776.60 L714.43,776.56 L715.43,776.52 L716.43,776.48 L717.42,776.44 L718.42,776.41 L718.91,776.39 M727.20,776.05 L727.41,776.04 L728.41,776.00 L729.41,775.95 L730.41,775.91 L731.41,775.87 L732.41,775.82 L733.41,775.78 L734.41,775.73 L735.41,775.69 L736.40,775.64 L737.40,775.60 L738.40,775.55 L739.40,775.51 L740.40,775.46 L740.44,775.46 M748.00,775.10 L748.39,775.08 L749.39,775.03 L750.39,774.98 L751.39,774.93 L752.38,774.88 L753.38,774.83 L754.38,774.78 L755.38,774.73 L756.38,774.68 L757.38,774.63 L758.38,774.58 L759.37,774.53 L760.37,774.48 L761.37,774.43 L761.87,774.40 M769.80,773.98 L770.36,773.95 L771.36,773.90 L772.36,773.84 L773.35,773.79 L774.35,773.73 L775.35,773.68 L776.35,773.62 L777.35,773.57 L778.35,773.51 L779.35,773.46 L780.34,773.40 L781.34,773.34 L782.34,773.29 L783.34,773.23 L783.67,773.21 M791.60,772.76 L792.32,772.71 L793.32,772.65 L794.32,772.60 L795.32,772.54 L796.32,772.48 L797.32,772.42 L798.31,772.36 L799.31,772.30 L800.31,772.24 L801.31,772.18 L802.31,772.12 L803.31,772.06 L804.30,772.00 L805.30,771.94 L805.60,771.92 M813.60,771.44 L814.29,771.39 L815.29,771.33 L816.28,771.27 L817.28,771.21 L818.28,771.15 L819.28,771.09 L820.28,771.02 L821.28,770.96 L822.27,770.90 L823.27,770.84 L824.27,770.78 L825.27,770.71 L826.27,770.65 L827.26,770.59 L827.35,770.58 M835.20,770.09 L835.25,770.08 L836.25,770.02 L837.25,769.96 L838.25,769.89 L839.24,769.83 L840.24,769.77 L841.24,769.70 L842.24,769.64 L843.24,769.58 L844.23,769.51 L845.23,769.45 L846.23,769.39 L847.23,769.32 L848.23,769.26 L848.82,769.22 M856.60,768.72 L857.21,768.68 L858.21,768.62 L859.21,768.55 L860.21,768.49 L861.20,768.43 L862.20,768.36 L863.20,768.30 L864.20,768.23 L865.20,768.17 L866.19,768.10 L867.19,768.04 L868.19,767.98 L869.19,767.91 L870.19,767.85 L870.92,767.80 M879.10,767.28 L879.17,767.27 L880.17,767.21 L881.17,767.15 L882.17,767.08 L883.16,767.02 L884.16,766.95 L885.16,766.89 L886.16,766.83 L887.16,766.76 L888.16,766.70 L889.15,766.64 L890.15,766.57 L891.15,766.51 L892.15,766.45 L892.78,766.41 M900.60,765.92 L901.13,765.88 L902.13,765.82 L903.13,765.76 L904.13,765.70 L905.13,765.63 L906.13,765.57 L907.12,765.51 L908.12,765.45 L909.12,765.39 L910.12,765.33 L911.12,765.26 L912.12,765.20 L913.11,765.14 L914.11,765.08 L914.28,765.07 M922.10,764.60 L923.10,764.54 L924.10,764.48 L925.09,764.42 L926.09,764.36 L927.09,764.30 L928.09,764.24 L929.09,764.18 L930.09,764.12 L931.09,764.07 L932.08,764.01 L933.08,763.95 L934.08,763.89 L935.08,763.83 L936.08,763.78 L936.35,763.76 M944.50,763.30 L945.07,763.26 L946.06,763.21 L947.06,763.15 L948.06,763.10 L949.06,763.04 L950.06,762.99 L951.06,762.93 L952.06,762.88 L953.05,762.82 L954.05,762.77 L955.05,762.72 L956.05,762.66 L957.05,762.61 L958.05,762.55 L958.18,762.55 M966.00,762.14 L966.04,762.14 L967.04,762.09 L968.04,762.03 L969.04,761.98 L970.03,761.93 L971.03,761.88 L972.03,761.83 L973.03,761.78 L974.03,761.73 L975.03,761.69 L976.03,761.64 L977.03,761.59 L978.03,761.54 L979.02,761.49 L979.68,761.46 M987.50,761.10 L988.02,761.07" fill="none" stroke="#000" stroke-width="3.3"/>
<path d="M137.15,754.81 L137.93,754.36 L138.70,753.91 L139.48,753.45 L140.26,752.98 L141.04,752.51 L141.82,752.03 L142.61,751.54 L143.39,751.05 L144.18,750.55 L144.97,750.05 L145.76,749.54 L146.56,749.02 L147.36,748.50 L148.15,747.98 L148.47,747.77 M155.10,743.30 L155.42,743.07 L156.24,742.51 L157.06,741.95 L157.88,741.38 L158.71,740.81 L159.53,740.24 L160.36,739.66 L161.19,739.09 L162.02,738.51 L162.85,737.93 L163.69,737.35 L164.52,736.77 L165.36,736.19 L166.20,735.61 L166.86,735.16 M173.60,730.54 L173.86,730.37 L174.72,729.79 L175.58,729.22 L176.44,728.64 L177.31,728.07 L178.18,727.50 L179.05,726.93 L179.92,726.36 L180.79,725.80 L181.67,725.24 L182.54,724.68 L183.42,724.13 L184.30,723.58 L185.19,723.03 L185.95,722.56 M193.20,718.31 L193.22,718.30 L194.12,717.80 L195.03,717.31 L195.93,716.82 L196.84,716.34 L197.75,715.86 L198.66,715.39 L199.58,714.93 L200.49,714.47 L201.41,714.02 L202.33,713.58 L203.25,713.15 L204.17,712.72 L205.10,712.30 L205.56,712.10 M212.90,709.14 L213.51,708.93 L214.45,708.60 L215.40,708.28 L216.34,707.97 L217.29,707.67 L218.24,707.38 L219.20,707.10 L220.15,706.83 L221.10,706.57 L222.06,706.32 L223.02,706.08 L223.98,705.85 L224.94,705.63 L225.90,705.42 L226.01,705.39 M233.70,704.10 L234.57,703.99 L235.53,703.89 L236.49,703.79 L237.46,703.71 L238.42,703.63 L239.39,703.57 L240.35,703.51 L241.32,703.47 L242.28,703.44 L243.24,703.42 L244.21,703.41 L245.17,703.41 L246.13,703.42 L247.09,703.44 L247.33,703.45 M255.10,704.06 L255.67,704.13 L256.62,704.27 L257.57,704.41 L258.51,704.56 L259.45,704.73 L260.39,704.91 L261.33,705.10 L262.26,705.30 L263.20,705.51 L264.13,705.73 L265.06,705.97 L265.98,706.21 L266.90,706.47 L267.83,706.74 L268.53,706.95 M275.90,709.66 L275.98,709.69 L276.87,710.08 L277.76,710.48 L278.64,710.89 L279.52,711.31 L280.40,711.74 L281.28,712.18 L282.15,712.63 L283.02,713.09 L283.88,713.56 L284.75,714.04 L285.61,714.52 L286.46,715.02 L287.32,715.53 L287.64,715.72 M294.00,719.79 L294.07,719.83 L294.90,720.40 L295.73,720.98 L296.56,721.56 L297.39,722.14 L298.22,722.73 L299.04,723.32 L299.86,723.92 L300.68,724.52 L301.50,725.13 L302.32,725.74 L303.13,726.35 L303.94,726.97 L304.76,727.59 L304.98,727.76 M311.10,732.53 L311.20,732.61 L312.00,733.24 L312.80,733.87 L313.59,734.50 L314.39,735.14 L315.19,735.77 L315.98,736.40 L316.77,737.03 L317.57,737.66 L318.36,738.30 L319.15,738.93 L319.94,739.56 L320.73,740.19 L321.52,740.82 L322.31,741.46 L322.76,741.82 M329.40,747.15 L330.17,747.77 L330.95,748.40 L331.74,749.03 L332.52,749.66 L333.30,750.29 L334.09,750.92 L334.87,751.55 L335.65,752.18 L336.44,752.81 L337.22,753.44 L338.00,754.07 L338.78,754.70 L339.57,755.33 L340.21,755.85 M346.41,760.79 L346.62,760.96 L347.41,761.58 L348.19,762.21 L348.98,762.83 L349.76,763.45 L350.55,764.07 L351.34,764.70 L352.13,765.32 L352.92,765.94 L353.71,766.56 L354.50,767.18 L355.29,767.80 L356.08,768.41 L356.87,769.03 L357.31,769.37 M363.60,774.21 L364.04,774.54 L364.84,775.15 L365.64,775.75 L366.44,776.35 L367.24,776.96 L368.05,777.56 L368.85,778.16 L369.66,778.75 L370.47,779.35 L371.27,779.94 L372.08,780.54 L372.89,781.13 L373.70,781.72 L374.51,782.30 L375.33,782.89 L375.49,783.00 M382.40,787.86 L382.70,788.06 L383.52,788.63 L384.35,789.19 L385.17,789.75 L386.00,790.30 L386.83,790.86 L387.66,791.41 L388.49,791.96 L389.33,792.50 L390.16,793.04 L391.00,793.58 L391.84,794.12 L392.68,794.65 L393.52,795.19 L393.70,795.30 M400.30,799.32 L401.15,799.82 L402.00,800.32 L402.86,800.81 L403.72,801.31 L404.58,801.79 L405.44,802.28 L406.31,802.76 L407.17,803.23 L408.04,803.71 L408.91,804.18 L409.78,804.64 L410.65,805.10 L411.53,805.56 L412.22,805.92 M419.20,809.35 L419.48,809.48 L420.37,809.90 L421.26,810.31 L422.16,810.71 L423.06,811.11 L423.96,811.51 L424.86,811.90 L425.77,812.29 L426.67,812.67 L427.58,813.05 L428.49,813.42 L429.40,813.79 L430.32,814.15 L431.20,814.49 M438.20,817.06 L438.63,817.21 L439.56,817.52 L440.50,817.83 L441.44,818.14 L442.37,818.44 L443.32,818.73 L444.26,819.02 L445.20,819.31 L446.15,819.59 L447.10,819.86 L448.05,820.13 L449.00,820.39 L449.96,820.65 L450.91,820.91 L451.80,821.14 M459.70,823.00 L460.58,823.18 L461.55,823.38 L462.53,823.58 L463.51,823.78 L464.49,823.97 L465.47,824.15 L466.45,824.33 L467.43,824.51 L468.42,824.68 L469.40,824.85 L470.39,825.02 L471.38,825.18 L472.36,825.34 L473.35,825.50 L473.92,825.59 M482.10,826.74 L482.30,826.76 L483.30,826.89 L484.29,827.01 L485.29,827.13 L486.29,827.25 L487.29,827.37 L488.29,827.48 L489.29,827.59 L490.29,827.70 L491.29,827.81 L492.29,827.91 L493.29,828.02 L494.29,828.12 L495.29,828.22 L496.03,828.29 M504.00,829.02 L504.29,829.04 L505.29,829.12 L506.29,829.21 L507.29,829.29 L508.29,829.37 L509.29,829.44 L510.29,829.52 L511.29,829.59 L512.29,829.67 L513.29,829.74 L514.29,829.81 L515.29,829.88 L516.29,829.94 L517.29,830.01 L517.87,830.05 M525.80,830.51 L526.29,830.54 L527.30,830.59 L528.30,830.64 L529.30,830.69 L530.30,830.74 L531.30,830.79 L532.30,830.84 L533.30,830.88 L534.30,830.93 L535.30,830.97 L536.30,831.01 L537.30,831.05 L538.30,831.09 L539.30,831.13 L539.67,831.14 M547.60,831.41 L548.30,831.43 L549.30,831.46 L550.30,831.48 L551.30,831.51 L552.30,831.54 L553.30,831.56 L554.30,831.58 L555.30,831.61 L556.29,831.63 L557.29,831.65 L558.29,831.67 L559.29,831.69 L560.29,831.71 L561.29,831.73 L561.47,831.73 M569.40,831.84 L570.29,831.85 L571.29,831.86 L572.29,831.87 L573.29,831.88 L574.29,831.89 L575.29,831.90 L576.29,831.91 L577.29,831.91 L578.29,831.92 L579.29,831.93 L580.29,831.93 L581.29,831.94 L582.29,831.94 L582.95,831.94 M590.70,831.96 L591.29,831.96 L592.29,831.96 L593.29,831.96 L594.29,831.96 L595.29,831.96 L596.28,831.96 L597.28,831.96 L598.28,831.95 L599.28,831.95 L600.28,831.95 L601.28,831.95 L602.28,831.94 L602.66,831.94 M609.50,831.92 L610.28,831.91 L611.28,831.91 L612.28,831.90 L613.28,831.90 L614.28,831.89 L615.28,831.89 L616.28,831.89 L617.28,831.88 L618.27,831.88 L619.27,831.87 L620.27,831.87 L621.27,831.86 L622.27,831.86 L622.86,831.85 M630.50,831.82 L631.27,831.82 L632.27,831.81 L633.27,831.81 L634.27,831.81 L635.27,831.81 L636.26,831.80 L637.26,831.80 L638.26,831.80 L639.26,831.80 L640.26,831.79 L641.26,831.79 L642.26,831.79 L643.26,831.79 L644.26,831.79 L644.82,831.79 M653.00,831.80 L653.25,831.81 L654.25,831.81 L655.25,831.81 L656.25,831.82 L657.25,831.82 L658.25,831.83 L659.25,831.84 L660.25,831.84 L661.25,831.85 L662.25,831.86 L663.25,831.87 L664.25,831.88 L665.25,831.89 L666.24,831.90 L667.00,831.91 M675.00,832.02 L675.24,832.02 L676.24,832.04 L677.24,832.05 L678.24,832.07 L679.23,832.09 L680.23,832.11 L681.23,832.13 L682.23,832.15 L683.23,832.17 L684.23,832.19 L685.23,832.21 L686.23,832.23 L687.23,832.26 L688.23,832.28 L688.90,832.29 M696.83,832.50 L697.22,832.51 L698.22,832.54 L699.22,832.57 L700.22,832.59 L701.22,832.62 L702.22,832.65 L703.21,832.68 L704.21,832.71 L705.21,832.75 L706.21,832.78 L707.21,832.81 L708.21,832.84 L709.21,832.88 L710.21,832.91 L710.73,832.93 M718.66,833.21 L719.20,833.23 L720.20,833.27 L721.20,833.30 L722.20,833.34 L723.20,833.38 L724.20,833.42 L725.19,833.46 L726.19,833.50 L727.19,833.54 L728.19,833.58 L729.19,833.62 L730.19,833.66 L731.19,833.70 L732.19,833.74 L732.55,833.76 M740.48,834.10 L741.18,834.13 L742.18,834.18 L743.18,834.23 L744.18,834.27 L745.18,834.32 L746.17,834.36 L747.17,834.41 L748.17,834.46 L749.17,834.50 L750.17,834.55 L751.17,834.60 L752.17,834.64 L753.17,834.69 L754.17,834.74 L754.37,834.75 M762.30,835.14 L763.16,835.18 L764.16,835.23 L765.16,835.28 L766.15,835.33 L767.15,835.38 L768.15,835.44 L769.15,835.49 L770.15,835.54 L771.15,835.59 L772.15,835.64 L773.15,835.69 L774.15,835.74 L775.15,835.80 L776.14,835.85 L776.49,835.87 M784.60,836.30 L785.14,836.33 L786.13,836.38 L787.13,836.43 L788.13,836.49 L789.13,836.54 L790.13,836.59 L791.13,836.65 L792.13,836.70 L793.13,836.76 L794.13,836.81 L795.13,836.86 L796.12,836.92 L797.12,836.97 L798.12,837.03 L798.79,837.06 M806.90,837.51 L807.11,837.52 L808.11,837.57 L809.11,837.63 L810.11,837.68 L811.11,837.74 L812.11,837.79 L813.11,837.85 L814.11,837.90 L815.11,837.96 L816.10,838.01 L817.10,838.07 L818.10,838.12 L819.10,838.18 L820.10,838.23 L820.33,838.24 M828.00,838.66 L828.09,838.66 L829.09,838.72 L830.09,838.77 L831.09,838.83 L832.09,838.88 L833.09,838.93 L834.09,838.99 L835.09,839.04 L836.09,839.09 L837.08,839.15 L838.08,839.20 L839.08,839.25 L840.08,839.31 L841.08,839.36 L842.08,839.41 L842.13,839.41 M850.20,839.83 L851.07,839.88 L852.07,839.93 L853.07,839.98 L854.07,840.03 L855.07,840.08 L856.07,840.13 L857.07,840.18 L858.06,840.23 L859.06,840.28 L860.06,840.33 L861.06,840.38 L862.06,840.43 L863.06,840.48 L863.63,840.50 M871.30,840.87 L872.05,840.90 L873.05,840.95 L874.05,841.00 L875.05,841.04 L876.05,841.09 L877.05,841.13 L878.05,841.18 L879.05,841.22 L880.05,841.27 L881.04,841.31 L882.04,841.35 L883.04,841.40 L884.04,841.44 L885.04,841.48 L885.49,841.50 M893.60,841.84 L894.03,841.85 L895.03,841.89 L896.03,841.93 L897.03,841.97 L898.03,842.01 L899.03,842.05 L900.03,842.08 L901.03,842.12 L902.03,842.16 L903.03,842.19 L904.03,842.23 L905.03,842.27 L906.02,842.30 L907.02,842.34 L907.03,842.34 M914.70,842.59 L915.02,842.60 L916.02,842.63 L917.02,842.66 L918.02,842.69 L919.02,842.72 L920.01,842.75 L921.01,842.78 L922.01,842.80 L923.01,842.83 L924.01,842.86 L925.01,842.89 L926.01,842.91 L927.01,842.94 L928.01,842.96 L928.83,842.98 M936.90,843.16 L937.00,843.17 L938.00,843.19 L939.00,843.21 L940.00,843.22 L941.00,843.24 L942.00,843.26 L943.00,843.28 L944.00,843.29 L945.00,843.31 L946.00,843.33 L947.00,843.34 L948.00,843.35 L949.00,843.37 L950.00,843.38 L950.33,843.39 M958.00,843.46 L958.99,843.47 L959.99,843.48 L960.99,843.49 L961.99,843.49 L962.99,843.50 L963.99,843.50 L964.99,843.50 L965.99,843.51 L966.99,843.51 L967.99,843.51 L968.99,843.51 L969.99,843.51 L970.99,843.51 L971.99,843.51 L972.00,843.51" fill="none" stroke="#000" stroke-width="3.3"/>
<line x1="116.7" y1="773.1" x2="130.8" y2="760.8" stroke="#000" stroke-width="3.3"/>
<circle cx="111.5" cy="42.8" r="7.35" fill="#000"/>
<circle cx="147.6" cy="61.2" r="7.35" fill="#000"/>
<circle cx="185.8" cy="88.0" r="7.35" fill="#000"/>
<circle cx="235.4" cy="133.4" r="7.35" fill="#000"/>
<circle cx="399.6" cy="345.4" r="7.35" fill="#000"/>
<circle cx="450.3" cy="390.1" r="7.35" fill="#000"/>
<circle cx="616.9" cy="613.6" r="7.35" fill="#000"/>
<circle cx="998.0" cy="629.1" r="7.35" fill="#000"/>
<path d="M146.5,239.5 L153.8,253.9 L139.2,253.9 Z" fill="#000"/>
<path d="M158.9,412.9 L166.2,427.3 L151.6,427.3 Z" fill="#000"/>
<path d="M191.3,407.0 L198.6,421.4 L184.0,421.4 Z" fill="#000"/>
<path d="M318.8,548.6 L326.1,563.0 L311.5,563.0 Z" fill="#000"/>
<path d="M408.1,703.5 L415.4,717.9 L400.8,717.9 Z" fill="#000"/>
<path d="M464.4,763.8 L471.7,778.2 L457.1,778.2 Z" fill="#000"/>
<path d="M611.7,852.4 L619.0,866.8 L604.4,866.8 Z" fill="#000"/>
<path d="M999.0,886.4 L1006.3,900.8 L991.7,900.8 Z" fill="#000"/>
<rect x="109.7" y="403.3" width="14.6" height="14.6" fill="#000"/>
<rect x="134.4" y="469.7" width="14.6" height="14.6" fill="#000"/>
<rect x="184.2" y="649.1" width="14.6" height="14.6" fill="#000"/>
<rect x="228.4" y="705.0" width="14.6" height="14.6" fill="#000"/>
<rect x="405.2" y="788.4" width="14.6" height="14.6" fill="#000"/>
<rect x="442.2" y="813.6" width="14.6" height="14.6" fill="#000"/>
<rect x="601.4" y="907.2" width="14.6" height="14.6" fill="#000"/>
<rect x="108.1" y="794.0" width="12.8" height="12.8" fill="#fff" stroke="#000" stroke-width="1.8"/>
<rect x="137.2" y="787.7" width="12.8" height="12.8" fill="#fff" stroke="#000" stroke-width="1.8"/>
<rect x="231.7" y="685.4" width="12.8" height="12.8" fill="#fff" stroke="#000" stroke-width="1.8"/>
<rect x="408.6" y="751.9" width="12.8" height="12.8" fill="#fff" stroke="#000" stroke-width="1.8"/>
<rect x="603.6" y="779.1" width="12.8" height="12.8" fill="#fff" stroke="#000" stroke-width="1.8"/>
<rect x="991.4" y="752.7" width="12.8" height="12.8" fill="#fff" stroke="#000" stroke-width="1.8"/>
<circle cx="117.2" cy="772.9" r="6.2" fill="none" stroke="#000" stroke-width="1.6"/>
<circle cx="145.9" cy="748.5" r="6.2" fill="none" stroke="#000" stroke-width="1.6"/>
<circle cx="238.5" cy="697.9" r="6.2" fill="none" stroke="#000" stroke-width="1.6"/>
<circle cx="409.7" cy="807.5" r="6.2" fill="none" stroke="#000" stroke-width="1.6"/>
<circle cx="611.0" cy="832.4" r="6.2" fill="none" stroke="#000" stroke-width="1.6"/>
<circle cx="997.2" cy="845.1" r="6.2" fill="none" stroke="#000" stroke-width="1.6"/>
<circle cx="238.4" cy="697.8" r="5" fill="#fff"/><circle cx="238.4" cy="697.8" r="1.7" fill="#000"/>
<circle cx="996.2" cy="845.3" r="1.4" fill="#000"/>
<g font-family="Liberation Sans, sans-serif" font-size="29.5" fill="#000" opacity="0.999">
<path transform="translate(53.70,59.60) scale(29.500,-30.532)" d="M0.271,0 L0.359,0 L0.359,0.69 L0.292,0.69 C0.282,0.615 0.225,0.566 0.101,0.563 L0.101,0.472 L0.271,0.472 Z"/>
<g transform="translate(0,59.60) scale(1,1.035) translate(0,-59.60)"><text x="70.10" y="59.60">.0</text></g>
<g transform="translate(0,498.60) scale(1,1.035) translate(0,-498.60)"><text x="53.35" y="498.60">0.5</text></g>
<g transform="translate(0,933.30) scale(1,1.035) translate(0,-933.30)"><text x="78.15" y="933.30">0</text></g>
<g transform="translate(0,955.00) scale(1,1.035) translate(0,-955.00)">
<text x="104.15" y="955.00">0</text>
<text x="271.55" y="955.00">0.</text>
<text x="447.85" y="955.00">0.2</text>
<text x="624.45" y="955.00">0.3</text>
<text x="799.85" y="955.00">0.4</text>
<text x="978.45" y="955.00">0.5</text>
</g>
<path transform="translate(296.15,955.00) scale(29.500,-30.532)" d="M0.271,0 L0.359,0 L0.359,0.69 L0.292,0.69 C0.282,0.615 0.225,0.566 0.101,0.563 L0.101,0.472 L0.271,0.472 Z"/>
<g transform="translate(0,997.90) scale(1,1.035) translate(0,-997.90)"><text x="532.57" y="997.90">Sulfur</text></g>
<text transform="translate(508.3,997.9) scale(1.13,1)" font-family="Liberation Serif, serif" font-style="italic" font-size="29.5" stroke="#000" stroke-width="0.45">&#952;</text>
<g transform="translate(26.9,0) rotate(-90)"><text x="-580.60" y="0">Relative</text><text x="-467.60" y="0" textLength="118.4" lengthAdjust="spacing">coverage</text></g>
<g transform="translate(0,139.80) scale(1,1.035) translate(0,-139.80)"><text x="257.60" y="139.80">CO</text></g>
<g transform="translate(0,146.90) scale(1,1.035) translate(0,-146.90)"><text x="301.44" y="146.9" font-size="20.7">TOTAL</text></g>
<g transform="translate(0,338.20) scale(1,1.035) translate(0,-338.20)"><text x="181.98" y="338.20">H</text></g>
<g transform="translate(0,345.70) scale(1,1.035) translate(0,-345.70)"><text x="202.94" y="345.7" font-size="20.7">TOTAL</text></g>
<g transform="translate(0,636.20) scale(1,1.035) translate(0,-636.20)"><text x="201.40" y="636.20">CO&#946;</text></g>
<g transform="translate(0,643.60) scale(1,1.035) translate(0,-643.60)"><text x="261.12" y="643.6" font-size="21.6">2</text></g>
<g transform="translate(0,750.40) scale(1,1.035) translate(0,-750.40)"><text x="781.80" y="750.40">CO&#946;</text></g>
<path transform="translate(841.82,756.60) scale(21.600,-22.356)" d="M0.271,0 L0.359,0 L0.359,0.69 L0.292,0.69 C0.282,0.615 0.225,0.566 0.101,0.563 L0.101,0.472 L0.271,0.472 Z"/>
<g transform="translate(0,823.00) scale(1,1.035) translate(0,-823.00)"><text x="810.50" y="823.00">CO</text></g>
<text transform="translate(855.00,823.20) scale(1.06,1)" font-family="Liberation Serif, serif" font-size="31.5" stroke="#000" stroke-width="0.35">&#945;</text>
</g>
</svg>
</body></html>
